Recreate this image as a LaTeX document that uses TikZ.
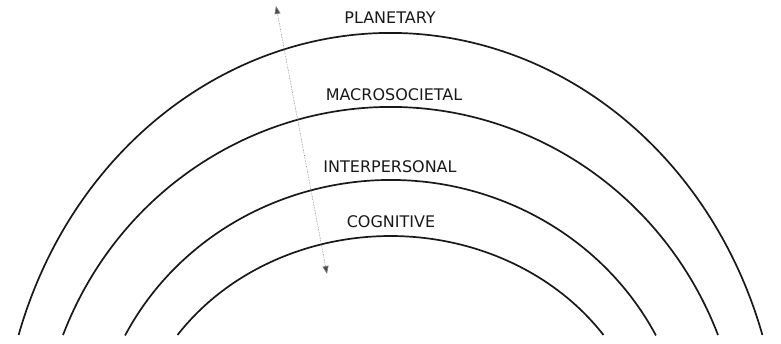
\documentclass[tikz,border=0pt]{standalone}
\usepackage{fontspec}
\setmainfont{DejaVu Sans}
\usetikzlibrary{arrows.meta}
\tikzset{
  ring/.style={line width=1.7pt, black!90},
  lab/.style={inner sep=0pt, font=\fontsize{16}{17}\selectfont, text=black!90},
  axisarrow/.style={{Triangle[length=8pt,width=6pt,fill=black!70]}-{Triangle[length=8pt,width=6pt,fill=black!70]}, gray, densely dotted, line width=0.6pt}
}
\begin{document}
\begin{tikzpicture}[x=1pt,y=1pt]
\useasboundingbox (0,0) rectangle (781,-344);
\coordinate (c) at (390.5,-465);
% rings (elliptical arcs)
\draw[ring] ([shift={(c)}]162.49:390 and 432) arc[start angle=162.49, end angle=17.51, x radius=390, y radius=432];
\draw[ring] ([shift={(c)}]158.71:351.5 and 358) arc[start angle=158.71, end angle=21.29, x radius=351.5, y radius=358];
\draw[ring] ([shift={(c)}]152.96:298 and 285) arc[start angle=152.96, end angle=27.04, x radius=298, y radius=285];
\draw[ring] ([shift={(c)}]145.41:258.7 and 229) arc[start angle=145.41, end angle=34.59, x radius=258.7, y radius=229];
% labels
\node[lab] (planetary) at (390,-18) {PLANETARY};
\node[lab] (macro) at (394,-95) {MACROSOCIETAL};
\node[lab] (inter) at (390,-167) {INTERPERSONAL};
\node[lab] (cog) at (391,-222) {COGNITIVE};
% axis arrow
\coordinate (atop) at (276,-6);
\coordinate (abot) at (327,-274);
\draw[axisarrow] (atop) -- (abot);
\end{tikzpicture}
\end{document}
